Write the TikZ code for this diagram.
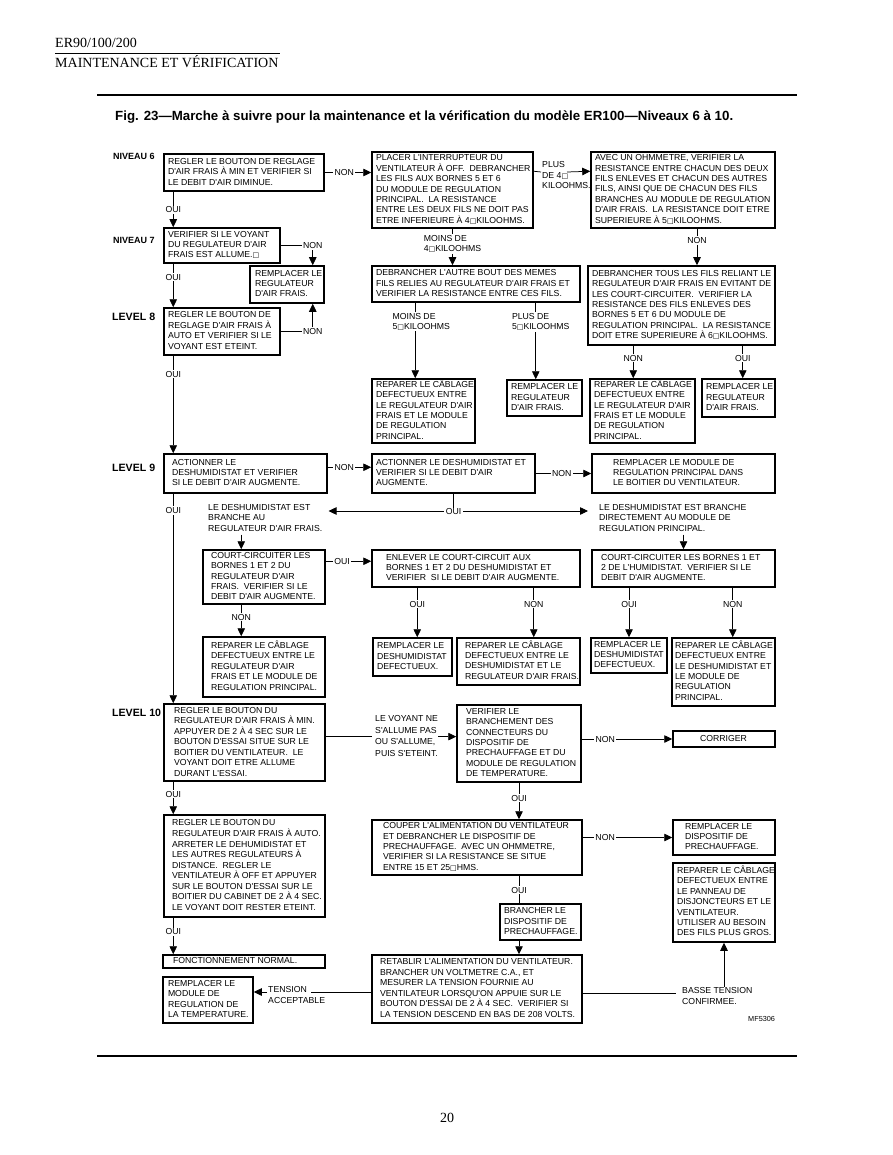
\documentclass[tikz,border=0pt]{standalone}
\usepackage{fontspec}
\usepackage{graphicx}
\usetikzlibrary{arrows.meta,calc}
\newfontfamily\hsans{Liberation Sans}
\newfontfamily\tserif{Liberation Serif}
\newfontfamily\djv{DejaVu Sans}
\newcommand\miss{{\djv\fontsize{7}{8}\selectfont □}}
\newcommand\boxfont{\hsans\fontsize{8.7}{10.4}\selectfont}
\newcommand\tl[1]{\begin{tabular}{@{}l@{}}#1\end{tabular}}
% \bx[inset]{name}{x1}{y1}{x2}{y2}{lines}
\newcommand\bx[7][4]{%
  \pgfmathsetmacro\bxW{#5-#3}%
  \pgfmathsetmacro\bxH{#6-#4}%
  \pgfmathsetmacro\bxT{#5-#3-8}%
  \pgfmathsetmacro\bxI{#1-4}%
  \node[bx, minimum width=\bxW pt, minimum height=\bxH pt] (#2) at ({(#3+#5)/2},{(#4+#6)/2})
    {\makebox[\bxT pt][l]{\hspace*{\bxI pt}\raisebox{-0.8pt}{\tl{#7}}}};%
}
\begin{document}
\begin{tikzpicture}[x=1pt,y=-1pt,
  bx/.style={draw, line width=1.5pt, inner xsep=4pt, inner ysep=0pt, font=\boxfont},
  lbl/.style={fill=white, inner xsep=1.5pt, inner ysep=1pt, font=\boxfont, align=center},
  txt/.style={inner sep=0pt, font=\boxfont, anchor=north west},
  lv/.style={inner sep=0pt, anchor=base west, font=\hsans\bfseries\fontsize{10.6}{12}\selectfont},
  nv/.style={inner sep=0pt, anchor=base west, font=\hsans\bfseries\fontsize{9}{11}\selectfont},
  hd/.style={inner sep=0pt, anchor=base west, font=\tserif\fontsize{14}{16}\selectfont},
  ln/.style={line width=0.75pt},
  arr/.style={line width=0.75pt, -{Triangle[length=8pt,width=7.5pt]}},
  dbl/.style={line width=0.75pt, {Triangle[length=8pt,width=7.5pt]}-{Triangle[length=8pt,width=7.5pt]}},
]
\fill[white] (0,0) rectangle (892,1155);
\useasboundingbox (0,0) rectangle (892,1155);

% header
\node[hd] (h1) at (55,48) {ER90/100/200};
\draw[line width=0.6pt] (55,53) -- (280,53);
\node[hd] (h2) at (55,68) {MAINTENANCE ET VÉRIFICATION};
\draw[line width=1.3pt] (97,95) -- (797,95);
\node[anchor=base west, inner sep=0pt] (title) at (115,121)
  {\resizebox{618pt}{!}{\hsans\bfseries\fontsize{13}{15}\selectfont Fig. 23—Marche à suivre pour la maintenance et la vérification du modèle ER100—Niveaux 6 à 10.}};
\draw[line width=1.3pt] (97,1056) -- (797,1056);
\node[anchor=base, inner sep=0pt, font=\tserif\fontsize{14}{16}\selectfont] (pg) at (447,1122) {20};

% level labels
\node[nv] (n6) at (113,160) {NIVEAU 6};
\node[nv] (n7) at (113,243.5) {NIVEAU 7};
\node[lv] (l8) at (112,320) {LEVEL 8};
\node[lv] (l9) at (112,471) {LEVEL 9};
\node[lv] (l10) at (112,716) {LEVEL 10};

% boxes
\bx{N6}{164}{154}{324}{191}{REGLER LE BOUTON DE REGLAGE\\D'AIR FRAIS À MIN ET VERIFIER SI\\LE DEBIT D'AIR DIMINUE.}
\bx{P1}{372}{152}{533}{228}{PLACER L'INTERRUPTEUR DU\\VENTILATEUR À OFF.~ DEBRANCHER\\LES FILS AUX BORNES 5 ET 6\\DU MODULE DE REGULATION\\PRINCIPAL.~ LA RESISTANCE\\ENTRE LES DEUX FILS NE DOIT PAS\\ETRE INFERIEURE À 4\miss KILOOHMS.}
\bx{A1}{591}{152}{775}{228}{AVEC UN OHMMETRE, VERIFIER LA\\RESISTANCE ENTRE CHACUN DES DEUX\\FILS ENLEVES ET CHACUN DES AUTRES\\FILS, AINSI QUE DE CHACUN DES FILS\\BRANCHES AU MODULE DE REGULATION\\D'AIR FRAIS.~ LA RESISTANCE DOIT ETRE\\SUPERIEURE À 5\miss KILOOHMS.}
\bx{N7}{164}{228}{280}{263}{VERIFIER SI LE VOYANT\\DU REGULATEUR D'AIR\\FRAIS EST ALLUME.\miss}
\bx[5]{R7}{250}{266}{324}{303}{REMPLACER LE\\REGULATEUR\\D'AIR FRAIS.}
\bx{D1}{372}{266}{580}{302}{DEBRANCHER L'AUTRE BOUT DES MEMES\\FILS RELIES AU REGULATEUR D'AIR FRAIS ET\\VERIFIER LA RESISTANCE ENTRE CES FILS.}
\bx{B1}{588}{266}{775}{345}{DEBRANCHER TOUS LES FILS RELIANT LE\\REGULATEUR D'AIR FRAIS EN EVITANT DE\\LES COURT-CIRCUITER.~ VERIFIER LA\\RESISTANCE DES FILS ENLEVES DES\\BORNES 5 ET 6 DU MODULE DE\\REGULATION PRINCIPAL.~ LA RESISTANCE\\DOIT ETRE SUPERIEURE À 6\miss KILOOHMS.}
\bx{L8}{164}{308}{280}{355}{REGLER LE BOUTON DE\\REGLAGE D'AIR FRAIS À\\AUTO ET VERIFIER SI LE\\VOYANT EST ETEINT.}
\bx{R8a}{372}{379}{475}{443}{REPARER LE CÂBLAGE\\DEFECTUEUX ENTRE\\LE REGULATEUR D'AIR\\FRAIS ET LE MODULE\\DE REGULATION\\PRINCIPAL.}
\bx{R8b}{507}{380}{582}{416}{REMPLACER LE\\REGULATEUR\\D'AIR FRAIS.}
\bx{R8c}{590}{379}{695}{443}{REPARER LE CÂBLAGE\\DEFECTUEUX ENTRE\\LE REGULATEUR D'AIR\\FRAIS ET LE MODULE\\DE REGULATION\\PRINCIPAL.}
\bx{R8d}{702}{379}{775}{417}{REMPLACER LE\\REGULATEUR\\D'AIR FRAIS.}
\bx[8]{L9}{164}{454}{327}{493}{ACTIONNER LE\\DESHUMIDISTAT ET VERIFIER\\SI LE DEBIT D'AIR AUGMENTE.}
\bx{L9b}{372}{454}{535}{493}{ACTIONNER LE DESHUMIDISTAT ET\\VERIFIER SI LE DEBIT D'AIR\\AUGMENTE.}
\bx[21]{L9c}{592}{454}{775}{493}{REMPLACER LE MODULE DE\\REGULATION PRINCIPAL DANS\\LE BOITIER DU VENTILATEUR.}
\bx[8]{CC1}{203}{550}{325}{604}{COURT-CIRCUITER LES\\BORNES 1 ET 2 DU\\REGULATEUR D'AIR\\FRAIS.~ VERIFIER SI LE\\DEBIT D'AIR AUGMENTE.}
\bx[14]{EC}{372}{550}{580}{587}{ENLEVER LE COURT-CIRCUIT AUX\\BORNES 1 ET 2 DU DESHUMIDISTAT ET\\VERIFIER~ SI LE DEBIT D'AIR AUGMENTE.}
\bx[9]{CC2}{592}{550}{775}{587}{COURT-CIRCUITER LES BORNES 1 ET\\2 DE L'HUMIDISTAT.~ VERIFIER SI LE\\DEBIT D'AIR AUGMENTE.}
\bx[8]{RC1}{203}{637}{325}{697}{REPARER LE CÂBLAGE\\DEFECTUEUX ENTRE LE\\REGULATEUR D'AIR\\FRAIS ET LE MODULE DE\\REGULATION PRINCIPAL.}
\bx{RD1}{373}{638}{452}{676}{REMPLACER LE\\DESHUMIDISTAT\\DEFECTUEUX.}
\bx[8]{RC2}{457}{638}{580}{685}{REPARER LE CÂBLAGE\\DEFECTUEUX ENTRE LE\\DESHUMIDISTAT ET LE\\REGULATEUR D'AIR FRAIS.}
\bx[3]{RD2}{591}{638}{667}{673}{REMPLACER LE\\DESHUMIDISTAT\\DEFECTUEUX.}
\bx[3]{RC3}{672}{638}{775}{706}{REPARER LE CÂBLAGE\\DEFECTUEUX ENTRE\\LE DESHUMIDISTAT ET\\LE MODULE DE\\REGULATION\\PRINCIPAL.}
\bx[10]{L10}{164}{704}{325}{781}{REGLER LE BOUTON DU\\REGULATEUR D'AIR FRAIS À MIN.\\APPUYER DE 2 À 4 SEC SUR LE\\BOUTON D'ESSAI SITUE SUR LE\\BOITIER DU VENTILATEUR.~ LE\\VOYANT DOIT ETRE ALLUME\\DURANT L'ESSAI.}
\bx[9]{VB}{457}{705}{581}{782}{VERIFIER LE\\BRANCHEMENT DES\\CONNECTEURS DU\\DISPOSITIF DE\\PRECHAUFFAGE ET DU\\MODULE DE REGULATION\\DE TEMPERATURE.}
\bx[27]{COR}{673}{731}{775}{747}{CORRIGER}
\bx[8]{L10b}{164}{815}{325}{917}{REGLER LE BOUTON DU\\REGULATEUR D'AIR FRAIS À AUTO.\\ARRETER LE DEHUMIDISTAT ET\\LES AUTRES REGULATEURS À\\DISTANCE.~ REGLER LE\\VENTILATEUR À OFF ET APPUYER\\SUR LE BOUTON D'ESSAI SUR LE\\BOITIER DU CABINET DE 2 À 4 SEC.\\LE VOYANT DOIT RESTER ETEINT.}
\bx[11]{CA}{372}{820}{582}{875}{COUPER L'ALIMENTATION DU VENTILATEUR\\ET DEBRANCHER LE DISPOSITIF DE\\PRECHAUFFAGE.~ AVEC UN OHMMETRE,\\VERIFIER SI LA RESISTANCE SE SITUE\\ENTRE 15 ET 25\miss HMS.}
\bx[12]{RP}{673}{820}{775}{855}{REMPLACER LE\\DISPOSITIF DE\\PRECHAUFFAGE.}
\bx{RCab}{673}{863}{775}{942}{REPARER LE CÂBLAGE\\DEFECTUEUX ENTRE\\LE PANNEAU DE\\DISJONCTEURS ET LE\\VENTILATEUR.\\UTILISER AU BESOIN\\DES FILS PLUS GROS.}
\bx{BR}{500}{904}{581}{940}{BRANCHER LE\\DISPOSITIF DE\\PRECHAUFFAGE.}
\bx[10]{FN}{163}{955}{325}{968}{FONCTIONNEMENT NORMAL.}
\bx[5]{RM}{163}{977}{253}{1023}{REMPLACER LE\\MODULE DE\\REGULATION DE\\LA TEMPERATURE.}
\bx[8]{RET}{372}{955}{582}{1023}{RETABLIR L'ALIMENTATION DU VENTILATEUR.\\BRANCHER UN VOLTMETRE C.A., ET\\MESURER LA TENSION FOURNIE AU\\VENTILATEUR LORSQU'ON APPUIE SUR LE\\BOUTON D'ESSAI DE 2 À 4 SEC.~ VERIFIER SI\\LA TENSION DESCEND EN BAS DE 208 VOLTS.}

% free texts
\node[txt] (plus) at (542,160.5) {\tl{PLUS\\DE 4\miss\\KILOOHMS.}};
\node[txt] (dh1) at (208,503) {\tl{LE DESHUMIDISTAT EST\\BRANCHE AU\\REGULATEUR D'AIR FRAIS.}};
\node[txt] (dh2) at (599,503) {\tl{LE DESHUMIDISTAT EST BRANCHE\\DIRECTEMENT AU MODULE DE\\REGULATION PRINCIPAL.}};
\node[txt] (vt) at (375,712.5) {\renewcommand\arraystretch{1.15}\tl{LE VOYANT NE\\S'ALLUME PAS\\OU S'ALLUME,\\PUIS S'ETEINT.}};
\node[txt] (bt) at (682,986.5) {\tl{BASSE TENSION\\CONFIRMEE.}};
\node[txt] (ta) at (268,985.5) {\tl{TENSION\\ACCEPTABLE}};
\node[anchor=base west, inner sep=0pt, font=\hsans\fontsize{7.3}{9}\selectfont] (mf) at (748,1021) {MF5306};

% main column
\draw[arr] ($(N6.south west)+(10,0)$) -- node[lbl,pos=0.51]{OUI} ($(N7.north west)+(10,0)$);
\draw[arr] ($(N7.south west)+(10,0)$) -- node[lbl,pos=0.31]{OUI} ($(L8.north west)+(10,0)$);
\draw[arr] ($(L8.south west)+(10,0)$) -- node[lbl,pos=0.19]{OUI} ($(L9.north west)+(10,0)$);
\draw[arr] ($(L9.south west)+(10,0)$) -- node[lbl,pos=0.08]{OUI} ($(L10.north west)+(10,0)$);
\draw[arr] ($(L10.south west)+(10,0)$) -- node[lbl,pos=0.38]{OUI} ($(L10b.north west)+(10,0)$);
\draw[arr] ($(L10b.south west)+(10,0)$) -- node[lbl,pos=0.39]{OUI} ($(FN.north west)+(11,0)$);

% level 6-8
\draw[arr] (N6.east) -- node[lbl,pos=0.42]{NON} (N6.east -| P1.west);
\draw[arr] (N7.east) -| node[lbl,pos=0.5]{NON} ($(R7.north east)+(-12,0)$);
\draw[arr] (L8.east) -| node[lbl,pos=0.5]{NON} ($(R7.south east)+(-12,0)$);
\coordinate (pa) at (541,172);
\coordinate (pd) at (567,172);
\draw[ln] ($(P1.north east)+(0,20)$) -- (pa);
\draw[arr] (pd) -- ($(A1.north west)+(0,20)$);
\draw[arr] (P1.south) -- node[lbl,pos=0.42,align=left]{MOINS DE\\4\miss KILOOHMS} (P1.south |- D1.north);
\coordinate (a1s) at ($(A1.south)+(14,0)$);
\draw[arr] (a1s) -- node[lbl,pos=0.32]{NON} (a1s |- B1.north);
\coordinate (d1a) at ($(D1.south west)+(44,0)$);
\draw[arr] (d1a) -- node[lbl,pos=0.25,xshift=6pt,align=left]{MOINS DE\\5\miss KILOOHMS} (d1a |- R8a.north);
\coordinate (d1b) at ($(D1.south east)+(-45,0)$);
\draw[arr] (d1b) -- node[lbl,pos=0.25,xshift=5pt,align=left]{PLUS DE\\5\miss KILOOHMS} (d1b |- R8b.north);
\coordinate (b1a) at ($(B1.south west)+(46,0)$);
\draw[arr] (b1a) -- node[lbl,pos=0.38]{NON} (b1a |- R8c.north);
\coordinate (b1b) at ($(B1.south east)+(-33,0)$);
\draw[arr] (b1b) -- node[lbl,pos=0.38]{OUI} (b1b |- R8d.north);

% level 9
\draw[arr] ($(L9.north east)+(0,14)$) -- node[lbl,pos=0.38]{NON} ($(L9b.north west)+(0,14)$);
\draw[arr] (L9b.east) -- node[lbl,pos=0.47]{NON} (L9b.east -| L9c.west);
\draw[dbl] ($(dh1.north east)+(6,8)$) -- ($(dh2.north west)+(-11,8)$);
\draw[ln] (L9b.south) -- ($(L9b.south)+(0,18)$) node[lbl]{OUI};
\coordinate (cc1t) at ($(CC1.north west)+(39,0)$);
\draw[arr] (dh1.south -| cc1t) -- (cc1t);
\draw[arr] (dh2.south -| CC2.north) -- (CC2.north);
\draw[arr] ($(CC1.north east)+(0,12)$) -- node[lbl,pos=0.36]{OUI} ($(EC.north west)+(0,12)$);
\coordinate (cc1b) at ($(CC1.south west)+(39,0)$);
\draw[arr] (cc1b) -- node[lbl,pos=0.39]{NON} (cc1b |- RC1.north);
\coordinate (eca) at ($(EC.south west)+(46,0)$);
\draw[arr] (eca) -- node[lbl,pos=0.33]{OUI} (eca |- RD1.north);
\coordinate (ecb) at ($(EC.south east)+(-47,0)$);
\draw[arr] (ecb) -- node[lbl,pos=0.33]{NON} (ecb |- RC2.north);
\draw[arr] (RD2.north |- CC2.south) -- node[lbl,pos=0.33]{OUI} (RD2.north);
\coordinate (cc2b) at ($(CC2.south east)+(-43,0)$);
\draw[arr] (cc2b) -- node[lbl,pos=0.33]{NON} (cc2b |- RC3.north);

% level 10
\draw[ln] (L10.east |- vt.west) -- ($(vt.west)+(-3,0)$);
\draw[arr] (vt.east) -- (vt.east -| VB.west);
\draw[arr] (VB.east |- COR.west) -- node[lbl,pos=0.26]{NON} (COR.west);
\draw[arr] (VB.south) -- node[lbl,pos=0.42]{OUI} (VB.south |- CA.north);
\draw[arr] (CA.east |- RP.west) -- node[lbl,pos=0.25]{NON} (RP.west);
\draw[ln] (VB.south |- CA.south) -- node[lbl,pos=0.52]{OUI} (VB.south |- BR.north);
\draw[arr] (VB.south |- BR.south) -- (VB.south |- RET.north);
\coordinate (btl) at ($(bt.north west)+(-6,6.5)$);
\draw[ln] (RET.east |- btl) -- (btl);
\draw[arr] (bt.north -| RCab.south) -- (RCab.south);
\coordinate (tal) at (311,992);
\draw[ln] (tal -| RET.west) -- (tal);
\coordinate (tar) at ($(ta.north west)+(-1,6.5)$);
\draw[arr] (tar) -- (tar -| RM.east);
\end{tikzpicture}
\end{document}
